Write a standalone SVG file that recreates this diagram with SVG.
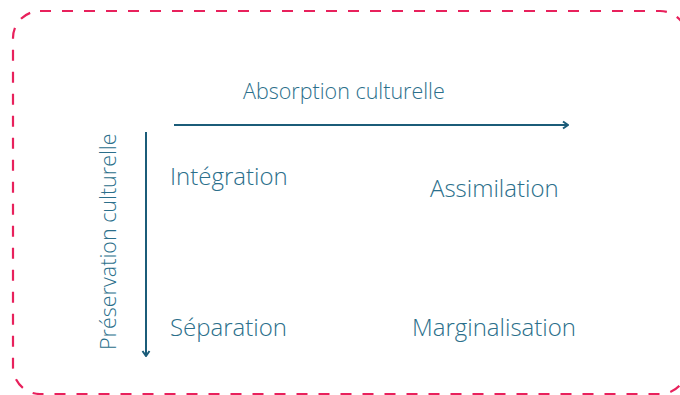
<svg xmlns="http://www.w3.org/2000/svg" width="680" height="395" viewBox="0 0 680 395">
  <style>
    .frame { fill: none; stroke: #e8215c; stroke-width: 2.2; stroke-dasharray: 11 11; }
    .axis { fill: none; stroke: #1b5c79; stroke-width: 2; }
    .lbl { font-family: "Open Sans", "Liberation Sans", sans-serif; font-weight: 300; fill: #2b6f8b; }
    .axis-lbl { font-size: 21.5px; }
    .cell { font-size: 24px; }
  </style>
  <defs>
    <marker id="chev" viewBox="0 0 10 10" refX="9" refY="5" markerWidth="10" markerHeight="10" markerUnits="userSpaceOnUse" orient="auto">
      <path d="M4,1.5 L9,5 L4,8.5" fill="none" stroke="#1b5c79" stroke-width="2"/>
    </marker>
  </defs>

  <!-- dashed outer frame -->
  <rect class="frame" x="13" y="11" width="674" height="383" rx="27" ry="27"/>

  <g id="connectors">
    <line class="axis" x1="174" y1="125" x2="568" y2="125" marker-end="url(#chev)"/>
    <line class="axis" x1="146" y1="132" x2="146" y2="356" marker-end="url(#chev)"/>
  </g>

  <g id="axis-absorption">
    <text class="lbl axis-lbl" x="243" y="99">Absorption culturelle</text>
  </g>
  <g id="axis-preservation">
    <text class="lbl axis-lbl" transform="translate(116,350) rotate(-90)">Préservation culturelle</text>
  </g>

  <g id="integration">
    <text class="lbl cell" x="170" y="185">Intégration</text>
  </g>
  <g id="assimilation">
    <text class="lbl cell" x="430" y="197">Assimilation</text>
  </g>
  <g id="separation">
    <text class="lbl cell" x="170" y="336">Séparation</text>
  </g>
  <g id="marginalisation">
    <text class="lbl cell" x="412" y="336">Marginalisation</text>
  </g>
</svg>
